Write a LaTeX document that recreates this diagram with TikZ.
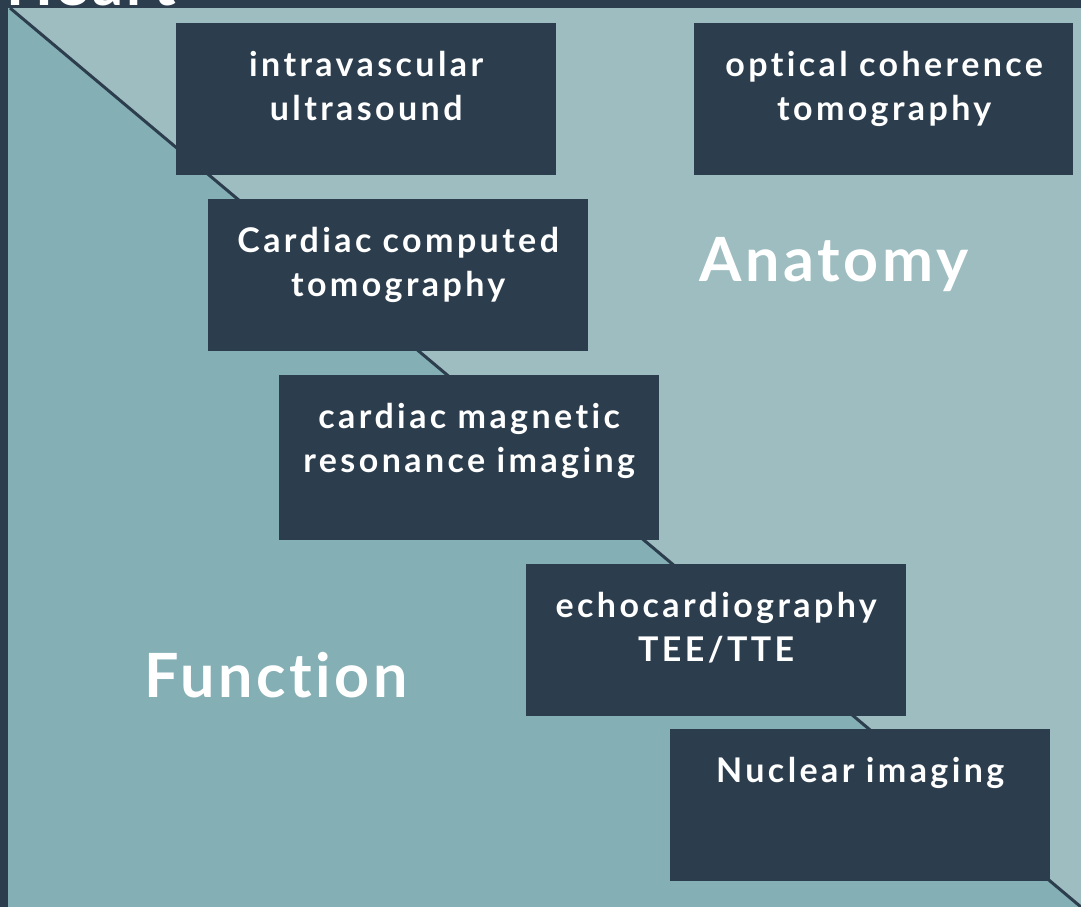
\documentclass[tikz,border=0pt]{standalone}
\usepackage{fontspec}
\setmainfont{Lato}[LetterSpace=10, Ligatures=NoCommon]
\newfontfamily\bigfont{Lato}[LetterSpace=6, Ligatures=NoCommon]
\definecolor{darkbg}{HTML}{2C3E4E}
\definecolor{upper}{HTML}{9DBDC0}
\definecolor{lower}{HTML}{84B0B5}
\tikzset{
  imgbox/.style={text=white, align=center, anchor=north west, inner sep=0pt, font=\fontsize{34}{44}\selectfont\bfseries, text width=380pt},
  bigword/.style={text=white, font=\bigfont\fontsize{61}{64}\selectfont\bfseries, inner sep=0pt}
}
\begin{document}
\begin{tikzpicture}[x=1pt,y=-1pt]
\useasboundingbox (0,0) rectangle (1081,907);
\clip (0,0) rectangle (1081,907);
\fill[darkbg] (0,0) rectangle (1081,907);
\fill[upper] (8,8) rectangle (1081,907);
\fill[lower] (8,8) -- (1081,907) -- (8,907) -- cycle;
\coordinate (d1) at (10,8);
\coordinate (d2) at (1081,907);
\draw[darkbg, line width=3pt] (d1) -- (d2);
\node[bigword, anchor=base west] (heart) at (6,6) {Heart};
\node[bigword] (anatomy) at (834,265) {Anatomy};
\node[bigword] (function) at (276,675) {Function};
\fill[darkbg] (176,23) rectangle (556,175);
\node[imgbox] (b1) at (176,51) {intravascular\\ultrasound};
\fill[darkbg] (694,23) rectangle (1073,175);
\node[imgbox] (b2) at (694,51) {optical coherence\\tomography};
\fill[darkbg] (208,199) rectangle (588,351);
\node[imgbox] (b3) at (208,227) {Cardiac computed\\tomography};
\fill[darkbg] (279,375) rectangle (659,540);
\node[imgbox] (b4) at (279,403) {cardiac magnetic\\resonance imaging};
\fill[darkbg] (526,564) rectangle (906,716);
\node[imgbox] (b5) at (526,592) {echocardiography\\TEE/TTE};
\fill[darkbg] (670,729) rectangle (1050,881);
\node[imgbox] (b6) at (670,757) {Nuclear imaging};
\end{tikzpicture}
\end{document}
